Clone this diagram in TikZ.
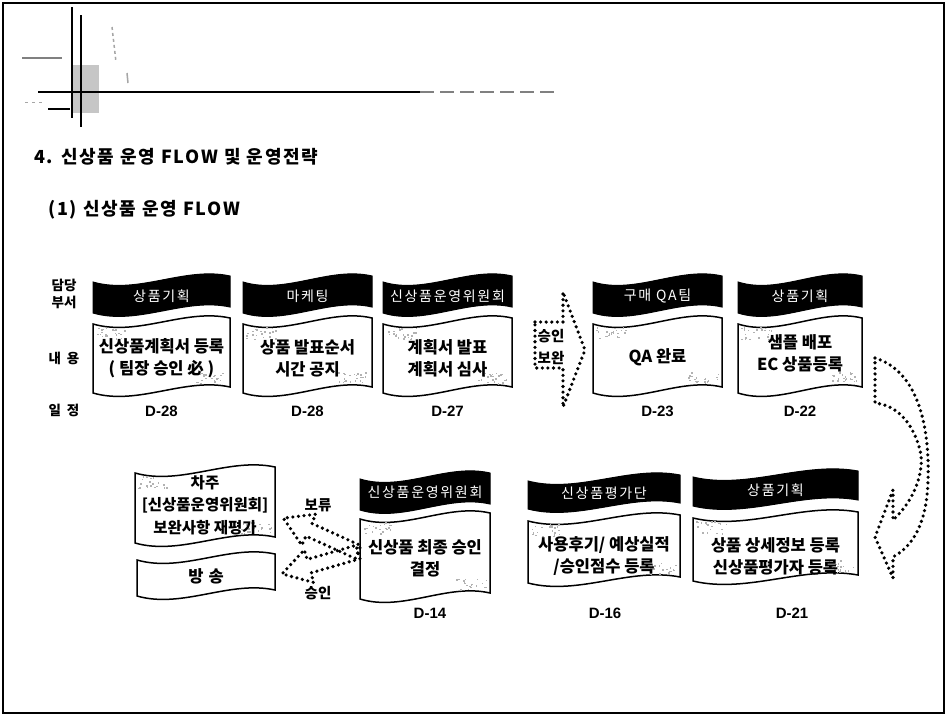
\documentclass[tikz,border=0pt]{standalone}
\usepackage{fontspec}
\setmainfont{Noto Sans CJK KR}
\newfontfamily\lat{Liberation Sans}
\newfontfamily\krsp[LetterSpace=10]{Noto Sans CJK KR}
\newfontfamily\krhd[LetterSpace=12]{Noto Sans CJK KR}
\usetikzlibrary{calc}
\tikzset{
  frameline/.style={line width=1.4pt},
  hdr/.style={fill=black, draw=black, line width=1pt},
  cbox/.style={fill=white, draw=black, line width=1.5pt},
  hdrtxt/.style={text=white, font=\krhd\fontsize{14}{16}\selectfont, inner sep=0pt},
  ctxt/.style={text=black, font=\bfseries\fontsize{16.5}{22}\selectfont, align=center, inner sep=0pt},
  dtxt/.style={font=\lat\bfseries\fontsize{15}{16}\selectfont, inner sep=0pt},
  lbl/.style={font=\bfseries\fontsize{13.5}{16}\selectfont, inner sep=0pt},
  ttl/.style={font=\krsp\bfseries\fontsize{18}{20}\selectfont, inner sep=0pt, anchor=west},
  dotline/.style={draw=black, line width=3.6pt, dash pattern=on 0pt off 5.6pt, line cap=round, line join=round},
  speck/.style={fill=gray!60},
}
\newcommand{\myflag}[5]{%
  \pgfmathsetmacro{\fxa}{#1+0.33*(#3-#1)}%
  \pgfmathsetmacro{\fxb}{#1+0.67*(#3-#1)}%
  \path[#5] (#1,#2+3) .. controls (\fxa,#2+16) and (\fxb,#2-13) .. (#3,#2-3) -- (#3,#4-3) .. controls (\fxb,#4-13) and (\fxa,#4+16) .. (#1,#4+3) -- cycle;}
\newcommand{\myspeck}[4]{%
  \foreach \i in {1,...,22}{%
    \pgfmathsetmacro{\rx}{#1+3+rnd*30}%
    \pgfmathsetmacro{\ry}{#2+6+rnd*12}%
    \fill[speck] (\rx,\ry) rectangle ++(1.5,1.5);}%
  \foreach \i in {1,...,22}{%
    \pgfmathsetmacro{\rx}{#3-34+rnd*30}%
    \pgfmathsetmacro{\ry}{#4-18+rnd*12}%
    \fill[speck] (\rx,\ry) rectangle ++(1.5,1.5);}}
\begin{document}
\begin{tikzpicture}[x=1pt,y=-1pt]
\pgfmathsetseed{11}
\useasboundingbox (0,0) rectangle (947,716);
\fill[white] (0,0) rectangle (947,716);
% outer frame
\draw[frameline] (3,3) rectangle (944,713);

% top-left decoration
\fill[gray!45] (72,65) rectangle (99,113);
\draw[line width=2.2pt] (72,7) -- (72,118);
\draw[line width=2.2pt] (81,15) -- (81,127);
\draw[line width=1.8pt] (38,92) -- (420,92);
\draw[line width=1.2pt, gray, dash pattern=on 14pt off 6pt] (420,92) -- (560,92);
\draw[line width=2pt] (48,109) -- (70,109);
\draw[line width=1.5pt, gray] (22,58) -- (62,58);
\draw[line width=1.5pt, gray!70, dash pattern=on 3pt off 3pt] (112,27) -- (116,62);
\draw[line width=1.5pt, gray!70] (127,73) -- (128,83);
\draw[line width=1pt, gray!70, dash pattern=on 3pt off 4pt] (25,102) -- (45,102);

% titles
\node[ttl] (title) at (34,157) {4. 신상품 운영 FLOW 및 운영전략};
\node[ttl] (sub) at (48,210) {(1) 신상품 운영 FLOW};

% row labels
\node[lbl] (l1) at (64,285) {담당};
\node[lbl] (l2) at (64,302) {부서};
\node[lbl] (l3) at (64,358) {내\hspace{6pt}용};
\node[lbl] (l4) at (64,410) {일\hspace{6pt}정};

% ---- row 1 ----
\myflag{93}{279}{230}{310}{hdr}
\myflag{93}{321}{230}{390}{cbox}
\myspeck{93}{321}{230}{390}
\node[hdrtxt] (h1) at (161.5,296) {상품기획};
\node[ctxt] (c1) at (161.5,358) {신상품계획서 등록\\( 팀장 승인 必 )};
\node[dtxt] (d1) at (161.5,411) {D-28};

\myflag{243}{279}{372}{310}{hdr}
\myflag{243}{321}{372}{390}{cbox}
\myspeck{243}{321}{372}{390}
\node[hdrtxt] (h2) at (307.5,296) {마케팅};
\node[ctxt] (c2) at (307.5,358) {상품 발표순서\\시간 공지};
\node[dtxt] (d2) at (307.5,411) {D-28};

\myflag{383}{279}{512}{310}{hdr}
\myflag{383}{321}{512}{390}{cbox}
\myspeck{383}{321}{512}{390}
\node[hdrtxt] (h3) at (447.5,296) {신상품운영위원회};
\node[ctxt] (c3) at (447.5,358) {계획서 발표\\계획서 심사};
\node[dtxt] (d3) at (447.5,411) {D-27};

\myflag{593}{279}{722}{310}{hdr}
\myflag{593}{321}{722}{390}{cbox}
\myspeck{593}{321}{722}{390}
\node[hdrtxt] (h4) at (657.5,296) {구매 QA팀};
\node[ctxt] (c4) at (657.5,357) {QA 완료};
\node[dtxt] (d4) at (657.5,411) {D-23};

\myflag{738}{279}{862}{310}{hdr}
\myflag{738}{321}{862}{390}{cbox}
\myspeck{738}{321}{862}{390}
\node[hdrtxt] (h5) at (800,296) {상품기획};
\node[ctxt] (c5) at (800,353) {샘플 배포\\EC 상품등록};
\node[dtxt] (d5) at (800,411) {D-22};

% approval block arrow (승인/보완)
\path[dotline] (535,322) -- (563,322) -- (563,292) -- (585,350) -- (563,407) -- (563,368) -- (535,368) -- cycle;
\node[lbl, font=\bfseries\fontsize{14.5}{16}\selectfont] (ap1) at (551,336) {승인};
\node[lbl, font=\bfseries\fontsize{14.5}{16}\selectfont] (ap2) at (551,358) {보완};

% curved turn arrow on the right
\path[dotline] (875,358) .. controls (915,370) and (930,420) .. (928,480)
  .. controls (927,520) and (915,545) .. (893,557) -- (893,578) -- (875,537) -- (893,490) -- (893,520)
  .. controls (915,500) and (925,470) .. (920,450) .. controls (912,420) and (895,405) .. (875,403) -- cycle;

% ---- row 2 ----
\myflag{693}{474}{858}{503}{hdr}
\myflag{693}{515}{858}{578}{cbox}
\myspeck{693}{515}{858}{578}
\node[hdrtxt] (h6) at (775.5,490) {상품기획};
\node[ctxt] (c6) at (775.5,556) {상품 상세정보 등록\\신상품평가자 등록};
\node[dtxt] (d6) at (792,613) {D-21};

\myflag{528}{478}{680}{506}{hdr}
\myflag{528}{518}{680}{580}{cbox}
\myspeck{528}{518}{680}{580}
\node[hdrtxt] (h7) at (604,493) {신상품평가단};
\node[ctxt] (c7) at (604,556) {사용후기/ 예상실적\\/승인점수 등록};
\node[dtxt] (d7) at (605,613) {D-16};

\myflag{360}{476}{490}{507}{hdr}
\myflag{360}{516}{490}{596}{cbox}
\myspeck{360}{516}{490}{596}
\node[hdrtxt] (h8) at (425,492) {신상품운영위원회};
\node[ctxt] (c8) at (425,558) {신상품 최종 승인\\결정};
\node[dtxt] (d8) at (430,613) {D-14};

\myflag{135}{470}{275}{540}{cbox}
\myspeck{135}{470}{275}{540}
\node[ctxt, font=\bfseries\fontsize{15.5}{22.5}\selectfont] (c9) at (205,505) {차주\\{[}신상품운영위원회{]}\\보완사항 재평가};

\myflag{137}{557}{275}{593}{cbox}
\node[ctxt] (c10) at (206,576) {방\hspace{5pt}송};

% crossing dotted block arrows
\begin{scope}[shift={(358,552)}, rotate=155.6]
  \path[dotline] (0,-7) -- (54,-7) -- (54,-17) -- (82,0) -- (54,17) -- (54,7) -- (0,7) -- cycle;
\end{scope}
\begin{scope}[shift={(358,552)}, rotate=196.1]
  \path[dotline] (0,-7) -- (51,-7) -- (51,-17) -- (79,0) -- (51,17) -- (51,7) -- (0,7) -- cycle;
\end{scope}
\node[lbl, font=\bfseries\fontsize{14.5}{16}\selectfont] (hold) at (318,505) {보류};
\node[lbl, font=\bfseries\fontsize{14.5}{16}\selectfont] (ok) at (318,593) {승인};
\end{tikzpicture}
\end{document}
